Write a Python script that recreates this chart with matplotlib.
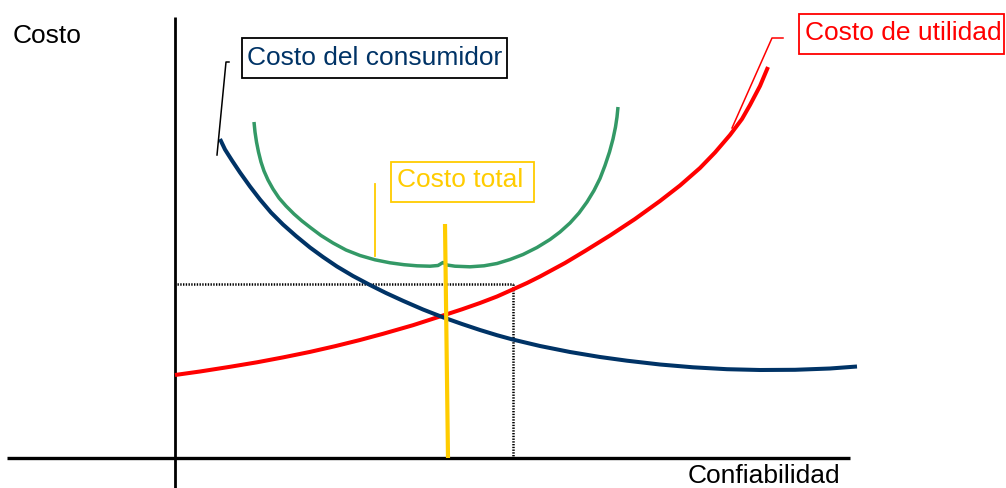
import matplotlib
matplotlib.use("Agg")
import matplotlib.pyplot as plt
from matplotlib.patches import Rectangle

plt.rcParams['font.family'] = ['Liberation Sans', 'DejaVu Sans']

# Curves (x = reliability, y = cost; pixel-like units, y grows downwards)
consumer_x = [220, 225, 232, 240, 250, 260, 271, 283, 296, 310, 323, 337, 353, 370, 386, 403, 423, 443,
              462, 480, 497, 513, 540, 570, 600, 627, 660, 693, 727, 760, 795, 830, 857]
consumer_y = [139, 149.5, 160.5, 172.5, 186.5, 199.5, 212.5, 224.5, 236, 247.5, 257, 266.5, 276, 285, 293,
              300.8, 309.5, 317.3, 324, 330, 335.2, 339.6, 346, 352, 357, 360.7, 364.5, 367.3, 369.2, 370,
              369.8, 368.5, 366.5]

utility_x = [175, 200, 230, 257, 283, 310, 335, 360, 383, 413, 443, 462, 480, 497, 512, 527, 540, 565,
             585, 610, 635, 660, 680, 700, 715, 730, 742, 750, 760, 768]
utility_y = [375, 371.5, 366.8, 362.3, 357.4, 351.9, 346.2, 340, 333.8, 325.2, 315.5, 309.3, 303, 296.5,
             289.8, 283, 276.5, 263, 251, 235.5, 219, 201, 185.5, 168, 152.5, 135, 119, 105, 86, 67]

total_x = [254, 255, 256.5, 258.5, 261, 264, 268, 273, 279, 286, 294, 302, 311, 321, 333, 346, 360, 375,
           390, 404, 417, 430, 438, 443, 447, 455, 470, 484, 497, 510, 523, 537, 550, 560, 570, 579, 587,
           594, 600, 605, 609.5, 613, 615.5, 617, 618]
total_y = [122, 132, 142, 152, 162, 171, 180, 189, 198, 206, 214, 221, 228, 235.5, 243, 250, 255.5, 259.8,
           262.8, 264.7, 265.8, 266.2, 265.5, 262.5, 265, 266.2, 266.8, 265.8, 263.5, 259.5, 254.5, 247.5,
           239.5, 232, 223, 213, 202, 190.5, 178.5, 165.5, 152, 139, 127, 117, 107]

optimum_x = [445, 448]
optimum_y = [224, 458]

ref_level_y = 284
ref_point_x = 513

fig = plt.figure(figsize=(10.06, 4.88), dpi=100)
ax = fig.add_axes([0, 0, 1, 1])
ax.set_xlim(0, 1006)
ax.set_ylim(488, 0)
ax.axis('off')

# axes
ax.plot([175, 175], [17, 488], color='black', lw=2.0, solid_capstyle='butt')
ax.plot([7, 850], [458, 458], color='black', lw=2.4, solid_capstyle='butt')

# dotted reference lines
ax.plot([177, ref_point_x], [ref_level_y, ref_level_y], color='black', lw=1.8,
        linestyle=(0, (0.55, 0.55)))
ax.plot([ref_point_x, ref_point_x], [ref_level_y, 457], color='black', lw=1.8,
        linestyle=(0, (0.55, 0.55)))

# curves
ax.plot(total_x, total_y, color='#339966', lw=2.5, solid_capstyle='butt', solid_joinstyle='round')
ax.plot(utility_x, utility_y, color='#ff0000', lw=2.9, solid_capstyle='butt', solid_joinstyle='round')
ax.plot(consumer_x, consumer_y, color='#003366', lw=2.9, solid_capstyle='butt', solid_joinstyle='round')
ax.plot(optimum_x, optimum_y, color='#ffcc00', lw=3.0, solid_capstyle='butt')

# axis titles
ax.text(13, 43, 'Costo', fontsize=19, color='black', ha='left', va='baseline')
ax.text(688, 483, 'Confiabilidad', fontsize=19, color='black', ha='left', va='baseline')

# label: consumer cost
ax.add_patch(Rectangle((242, 38), 265, 40, fill=False, edgecolor='black', lw=1.3))
ax.text(247, 65, 'Costo del consumidor', fontsize=19, color='#003366', ha='left', va='baseline')
ax.plot([229, 226, 217], [62, 62, 155], color='black', lw=1.1)

# label: utility cost
ax.add_patch(Rectangle((799, 14), 205, 40, fill=False, edgecolor='#ff0000', lw=1.3))
ax.text(805, 40, 'Costo de utilidad', fontsize=19, color='#ff0000', ha='left', va='baseline')
ax.plot([783, 772, 732], [38, 38, 128], color='#ff0000', lw=1.1)

# label: total cost
ax.add_patch(Rectangle((391, 162), 143, 40, fill=False, edgecolor='#ffcc00', lw=1.3))
ax.text(397, 187, 'Costo total', fontsize=19, color='#ffcc00', ha='left', va='baseline')
ax.plot([375, 375], [184, 256], color='#ffcc00', lw=1.3)

fig.savefig('out.png', dpi=100, facecolor='white')
